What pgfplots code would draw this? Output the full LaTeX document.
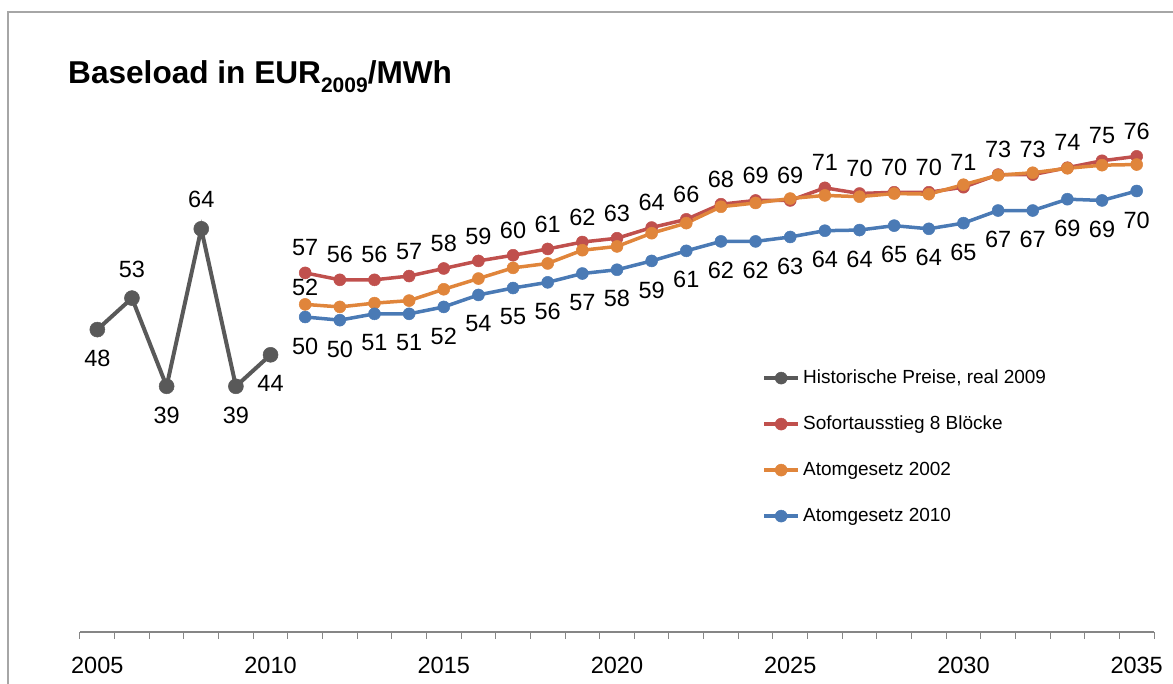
\documentclass[border=0pt]{standalone}
\usepackage{pgfplots}
\pgfplotsset{compat=1.18}
\usepackage{fontspec}
\setmainfont{Liberation Sans}
\definecolor{cgray}{HTML}{595959}
\definecolor{cred}{HTML}{C0504D}
\definecolor{corange}{HTML}{E0853B}
\definecolor{cblue}{HTML}{4A7AB5}
\definecolor{framegray}{HTML}{A6A6A6}
\definecolor{axisgray}{HTML}{868686}

\begin{document}
\begin{tikzpicture}
\path[use as bounding box] (-80pt,-52pt) rectangle (1093pt,632pt);
\draw[framegray, line width=1.5pt] (-72pt,-60pt) -- (-72pt,620pt) -- (1100pt,620pt);
\node[anchor=base west, inner sep=0pt, font=\fontsize{31.6}{36}\selectfont\bfseries] at (-12pt,548pt) {Baseload in EUR\raisebox{-0.28em}{\fontsize{21}{24}\selectfont\bfseries 2009}/MWh};
\begin{axis}[
  scale only axis, width=1074pt, height=504pt,
  xmin=2004.5, xmax=2035.5, ymin=0, ymax=80,
  axis x line*=bottom, axis y line=none,
  x axis line style={axisgray, line width=2pt},
  xtick={2005,2010,...,2035},
  minor xtick={2004.5,2005.5,...,2035.5},
  major tick length=0pt, minor tick length=7pt, tick align=outside,
  minor tick style={axisgray, line width=1pt},
  major tick style={draw=none},
  xticklabel style={font=\fontsize{23.5}{26}\selectfont, inner sep=0pt, yshift=-25pt},
  /pgf/number format/assume math mode=true,
  /pgf/number format/1000 sep={},
  clip=false,
  nodes near coords,
  point meta=explicit symbolic,
  visualization depends on={\thisrow{dy} \as \dy},
  every node near coord/.append style={anchor=center, yshift=\dy pt, inner sep=0pt, font=\fontsize{23.5}{26}\selectfont, text=black},
  legend style={at={(rel axis cs:0.635,0.524)}, anchor=north west, draw=none, fill=none, inner sep=0pt,
    font=\fontsize{19}{23}\selectfont, row sep=26pt, column sep=3pt,
    nodes={inner sep=0pt, text height=15pt, text depth=5pt}},
  legend cell align=left,
  legend image code/.code={\draw[mark repeat=2,mark phase=2,mark size=6pt] plot coordinates {(0pt,0pt)(17pt,0pt)(34pt,0pt)};},
]
\addplot[color=cgray, line width=4pt, mark=*, mark size=7.5pt, mark options={solid, line width=0.5pt, fill=cgray}]
table[x=x, y=y, meta=lab] {
x y lab dy
2005 48 48 -29
2006 53 53 29
2007 39 39 -29
2008 64 64 29
2009 39 39 -29
2010 44 44 -29
};
\addlegendentry{Historische Preise, real 2009}
\addplot[color=cred, line width=3.5pt, mark=*, mark size=6pt, mark options={solid, line width=0.5pt, fill=cred}]
table[x=x, y=y, meta=lab] {
x y lab dy
2011 57.0 57 25
2012 55.9 56 25
2013 55.9 56 25
2014 56.5 57 25
2015 57.7 58 25
2016 58.9 59 25
2017 59.8 60 25
2018 60.8 61 25
2019 61.9 62 25
2020 62.5 63 25
2021 64.2 64 25
2022 65.5 66 25
2023 67.9 68 25
2024 68.5 69 25
2025 68.5 69 25
2026 70.5 71 25
2027 69.6 70 25
2028 69.8 70 25
2029 69.8 70 25
2030 70.6 71 25
2031 72.6 73 25
2032 72.6 73 25
2033 73.7 74 25
2034 74.8 75 25
2035 75.5 76 25
};
\addlegendentry{Sofortausstieg 8 Blöcke}
\addplot[color=corange, line width=3.5pt, mark=*, mark size=6pt, mark options={solid, line width=0.5pt, fill=corange}]
table[x=x, y=y, meta=lab] {
x y lab dy
2011 52.0 52 17
2012 51.6 {} 0
2013 52.2 {} 0
2014 52.6 {} 0
2015 54.4 {} 0
2016 56.1 {} 0
2017 57.8 {} 0
2018 58.5 {} 0
2019 60.6 {} 0
2020 61.2 {} 0
2021 63.3 {} 0
2022 64.9 {} 0
2023 67.5 {} 0
2024 68.1 {} 0
2025 68.8 {} 0
2026 69.3 {} 0
2027 69.1 {} 0
2028 69.6 {} 0
2029 69.5 {} 0
2030 71.0 {} 0
2031 72.5 {} 0
2032 72.9 {} 0
2033 73.6 {} 0
2034 74.1 {} 0
2035 74.2 {} 0
};
\addlegendentry{Atomgesetz 2002}
\addplot[color=cblue, line width=3.5pt, mark=*, mark size=6pt, mark options={solid, line width=0.5pt, fill=cblue}]
table[x=x, y=y, meta=lab] {
x y lab dy
2011 50.0 50 -29
2012 49.5 50 -29
2013 50.5 51 -29
2014 50.5 51 -29
2015 51.6 52 -29
2016 53.5 54 -29
2017 54.6 55 -29
2018 55.5 56 -29
2019 56.9 57 -29
2020 57.5 58 -29
2021 58.9 59 -29
2022 60.5 61 -29
2023 62.0 62 -29
2024 62.0 62 -29
2025 62.7 63 -29
2026 63.7 64 -29
2027 63.8 64 -29
2028 64.5 65 -29
2029 64.0 64 -29
2030 64.9 65 -29
2031 66.9 67 -29
2032 66.9 67 -29
2033 68.7 69 -29
2034 68.5 69 -29
2035 70.0 70 -29
};
\addlegendentry{Atomgesetz 2010}
\end{axis}
\end{tikzpicture}
\end{document}
